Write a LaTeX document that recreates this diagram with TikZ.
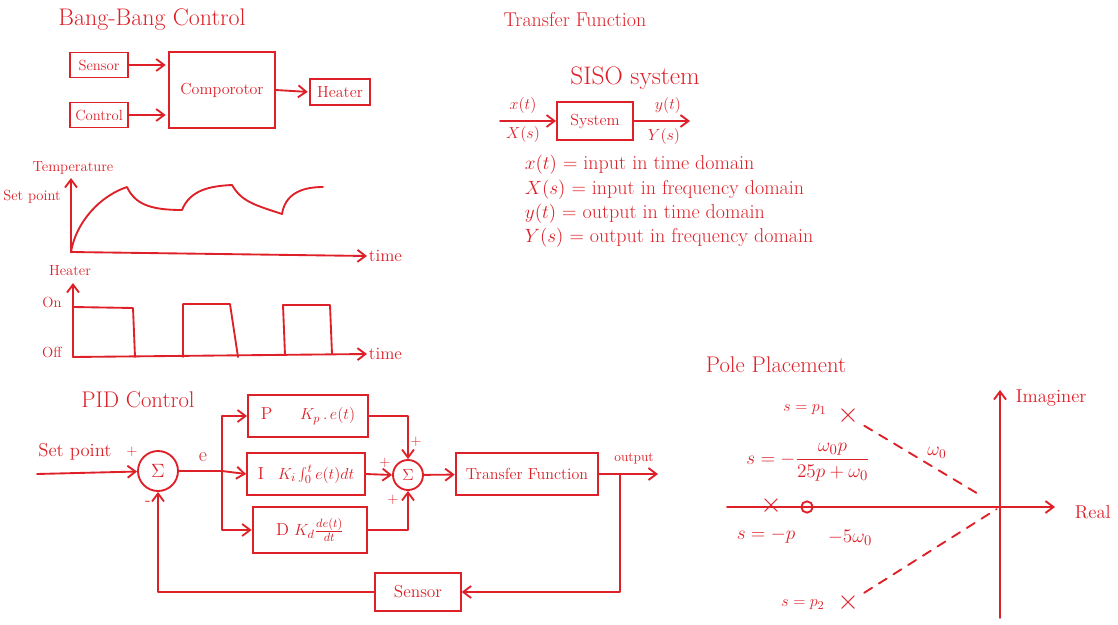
\documentclass[tikz,border=0pt]{standalone}
\usetikzlibrary{arrows.meta,positioning}
\definecolor{pen}{RGB}{222,32,40}
\tikzset{every picture/.style={line width=1.4pt}}
\tikzset{
  hand/.style={draw=pen, line cap=round, line join=round},
  conn/.style={hand, -{Straight Barb[length=6pt,width=9pt]}},
  blk/.style={draw=pen, text=pen, rectangle, inner sep=0.75pt},
  sumnode/.style={draw=pen, text=pen, circle, inner sep=0pt},
  lbl/.style={text=pen, inner sep=0.75pt},
  title/.style={lbl, font=\fontsize{17}{20}\selectfont},
  pole/.style={lbl, inner sep=0pt, font=\fontsize{20}{20}\selectfont},
}

\begin{document}
\begin{tikzpicture}[x=0.75pt,y=0.75pt,yscale=-1,xscale=1]
\useasboundingbox (0,0) rectangle (1118,625);

%%% Bang-Bang Control
% Text Node
\node[title, font=\fontsize{18}{21}\selectfont] (bbtitle) at (152,20) {Bang-Bang Control};
%Shape: Boxes
\node[blk, minimum width=43.5pt, minimum height=18.75pt, font=\fontsize{11}{13}\selectfont] (sens) at (99,65) {Sensor};
\node[blk, minimum width=43.5pt, minimum height=18.75pt, font=\fontsize{11}{13}\selectfont] (ctrl) at (99,115) {Control};
\node[blk, minimum width=79pt, minimum height=57pt, font=\fontsize{12}{14}\selectfont] (comp) at (222,90) {Comporotor};
\node[blk, minimum width=45pt, minimum height=19pt, font=\fontsize{12}{14}\selectfont] (heat) at (340,92) {Heater};
%Straight Lines
\draw[conn, shorten >=2pt] (sens.east) -- (sens.east -| comp.west);
\draw[conn, shorten >=2pt] (ctrl.east) -- (ctrl.east -| comp.west);
\draw[conn, shorten >=1pt] (comp.east) -- (heat.west);

%%% Temperature plot
\coordinate (t0) at (71,252);
\coordinate (ty) at (71,178);
\coordinate (tx) at (367,256);
\draw[conn] (t0) -- (ty);
\draw[conn] (t0) -- (tx);
% Text Node
\node[lbl, anchor=west, font=\fontsize{13}{15}\selectfont] (ttime) at (tx) {time};
\node[lbl, font=\fontsize{11}{13}\selectfont] (ttemp) at (73,168) {Temperature};
\node[lbl, font=\fontsize{11}{13}\selectfont] (tset) at (32,197) {Set point};
%Curve Lines
\draw[hand] (t0) .. controls (76,222) and (100,196) .. (127,187)
  .. controls (135,204) and (150,210) .. (182,210)
  .. controls (190,190) and (210,186) .. (232,185)
  .. controls (242,202) and (255,205) .. (282,214)
  .. controls (285,195) and (300,187) .. (323,187);

%%% Heater plot
\coordinate (h0) at (73,357);
\coordinate (hy) at (73,283);
\coordinate (hx) at (367,354);
\draw[conn] (h0) -- (hy);
\draw[conn] (h0) -- (hx);
% Text Node
\node[lbl, anchor=west, font=\fontsize{13}{15}\selectfont] (htime) at (hx) {time};
\node[lbl, font=\fontsize{11}{13}\selectfont] (hheat) at (70,271) {Heater};
\node[lbl, font=\fontsize{11}{13}\selectfont] (hon) at (52,302) {On};
\node[lbl, font=\fontsize{11}{13}\selectfont] (hoff) at (52,352) {Off};
%Straight Lines
\draw[hand] (73,307) -- (133,308) -- (135,357);
\draw[hand] (183,357) -- (183,304) -- (230,304) -- (238,357);
\draw[hand] (285,355) -- (283,305) -- (330,305) -- (332,354);

%%% Transfer Function
% Text Node
\node[title, font=\fontsize{15}{18}\selectfont] (tftitle) at (575,20) {Transfer Function};
\node[lbl, font=\fontsize{19}{22}\selectfont] (siso) at (635,78) {SISO system};
%Shape: Box
\node[blk, minimum width=57pt, minimum height=28.5pt, font=\fontsize{12}{14}\selectfont] (sys) at (595,121) {System};
\coordinate (xin) at (500,121);
\coordinate (yout) at (690,121);
\draw[conn] (xin) -- (sys.west);
\draw[conn] (sys.east) -- (yout);
% Text Node
\node[lbl, font=\fontsize{12}{14}\selectfont] (xt) at (523,105) {$x(t)$};
\node[lbl, font=\fontsize{12}{14}\selectfont] (xs) at (523,134) {$X(s)$};
\node[lbl, font=\fontsize{12}{14}\selectfont] (yt) at (668,105) {$y(t)$};
\node[lbl, font=\fontsize{12}{14}\selectfont] (ys) at (664,136) {$Y(s)$};
\node[lbl, anchor=west, font=\fontsize{15}{17}\selectfont] (dxt) at (523,165) {$x(t)$ = input in time domain};
\node[lbl, anchor=west, font=\fontsize{15}{17}\selectfont] (dxs) at (523,190) {$X(s)$ = input in frequency domain};
\node[lbl, anchor=west, font=\fontsize{15}{17}\selectfont] (dyt) at (523,214) {$y(t)$ = output in time domain};
\node[lbl, anchor=west, font=\fontsize{15}{17}\selectfont] (dys) at (523,238) {$Y(s)$ = output in frequency domain};

%%% PID Control
% Text Node
\node[title] (pidtitle) at (138,400) {PID Control};
\node[lbl, font=\fontsize{14}{16}\selectfont] (pidset) at (75,452) {Set point};
\node[lbl, font=\fontsize{11}{13}\selectfont] (plus1) at (132,452) {+};
\node[lbl, font=\fontsize{13}{15}\selectfont] (minus1) at (148,503) {-};
%Shape: Circle
\node[sumnode, minimum size=30pt, font=\fontsize{15}{17}\selectfont] (sum1) at (158,471) {$\Sigma$};
\coordinate (spin) at (37,474);
\coordinate (br) at (222,471);
\draw[conn] (spin) -- (sum1);
\draw[hand] (sum1) -- (br);
\node[lbl, font=\fontsize{15}{17}\selectfont] (err) at (203,457) {e};
%Shape: Boxes
\node[blk, minimum width=90pt, minimum height=32pt, font=\fontsize{13}{15}\selectfont] (pbox) at (308,416) {P\hspace{1.6em}$K_p\,.\,e(t)$};
\node[blk, minimum width=88.5pt, minimum height=31.5pt, font=\fontsize{13}{15}\selectfont] (ibox) at (306,474) {I\hspace{0.8em}$K_i\int_0^t e(t)dt$};
\node[blk, minimum width=86pt, minimum height=34pt, font=\fontsize{13}{15}\selectfont] (dbox) at (310,530) {D\hspace{0.3em}$K_d\frac{de(t)}{dt}$};
\draw[conn] (br) |- (pbox.west);
\draw[conn] (br) -- (ibox.west);
\draw[conn] (br) |- (dbox.west);
%Shape: Circle
\node[sumnode, minimum size=22.5pt, font=\fontsize{13}{15}\selectfont] (sum2) at (408,475) {$\Sigma$};
\draw[conn] (pbox.east) -| (sum2.north);
\draw[conn] (ibox.east) -- (sum2.west);
\draw[conn] (dbox.east) -| (sum2.south);
% Text Node
\node[lbl, font=\fontsize{11}{13}\selectfont] (plus2) at (416,442) {+};
\node[lbl, font=\fontsize{11}{13}\selectfont] (plus3) at (385,463) {+};
\node[lbl, font=\fontsize{11}{13}\selectfont] (plus4) at (393,500) {+};
%Shape: Box
\node[blk, minimum width=107pt, minimum height=32pt, font=\fontsize{12}{14}\selectfont] (tfbox) at (527,474) {Transfer Function};
\draw[conn] (sum2) -- (tfbox);
\coordinate (outp) at (658,474);
\coordinate (fb) at (620,474);
\draw[conn] (tfbox.east) -- (outp);
\node[lbl, font=\fontsize{10}{12}\selectfont] (outlbl) at (634,459) {output};
%Shape: Box
\node[blk, minimum width=64pt, minimum height=28pt, font=\fontsize{13}{15}\selectfont] (sens2) at (418,592) {Sensor};
\draw[conn] (fb) |- (sens2.east);
\draw[conn] (sens2.west) -| (sum1.south);

%%% Pole Placement
% Text Node
\node[title] (pptitle) at (776,365) {Pole Placement};
\coordinate (org) at (1000,507);
\coordinate (imtop) at (1000,390);
\coordinate (imbot) at (1000,618);
\coordinate (relt) at (727,507);
\coordinate (rert) at (1055,507);
\draw[conn] (imbot) -- (imtop);
\draw[conn] (relt) -- (rert);
\node[lbl, anchor=west, font=\fontsize{14}{16}\selectfont] (imlbl) at (1014,398) {Imaginer};
\node[lbl, anchor=west, font=\fontsize{14}{16}\selectfont] (relbl) at (1073,512) {Real};
% Poles and zero
\node[pole] (p1) at (848,416) {$\times$};
\node[pole] (p0) at (771,506) {$\times$};
\node[pole] (p2) at (848,603) {$\times$};
\node[draw=pen, circle, inner sep=0pt, minimum size=8.5pt] (z0) at (807,507) {};
%Straight Lines
\draw[hand, dash pattern=on 7pt off 6pt, shorten <=4pt, shorten >=20pt] (p1) -- (org);
\draw[hand, dash pattern=on 7pt off 6pt, shorten <=4pt, shorten >=3pt] (p2) -- (org);
% Text Node
\node[lbl, font=\fontsize{13}{15}\selectfont] (lp1) at (805,410) {$s=p_1$};
\node[lbl, font=\fontsize{13}{15}\selectfont] (lp2) at (803,605) {$s=p_2$};
\node[lbl, font=\fontsize{14}{16}\selectfont] (lw0) at (937,453) {$\omega_0$};
\node[lbl, font=\fontsize{15.5}{18}\selectfont] (lzp) at (808,462) {$\displaystyle s=-\frac{\omega_0 p}{25p+\omega_0}$};
\node[lbl, font=\fontsize{15}{17}\selectfont] (lp0) at (766,536) {$s=-p$};
\node[lbl, font=\fontsize{15}{17}\selectfont] (lz0) at (850,538) {$-5\omega_0$};

\end{tikzpicture}
\end{document}
